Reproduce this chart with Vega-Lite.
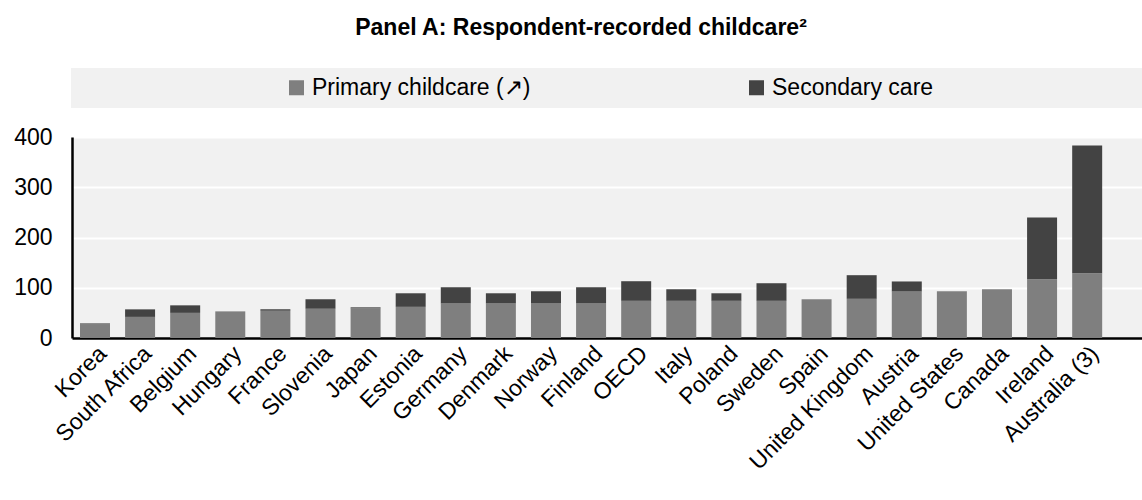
{
  "$schema": "https://vega.github.io/schema/vega-lite/v6.json",
  "autosize": {"type": "none"},
  "width": 1070,
  "height": 201,
  "padding": {"left": 72, "top": 137, "right": 0, "bottom": 162},
  "background": "white",
  "title": {
    "text": "Panel A: Respondent-recorded childcare²",
    "font": "Liberation Sans",
    "fontSize": 23,
    "fontWeight": "bold",
    "color": "black",
    "anchor": "middle",
    "frame": "group",
    "dx": -26,
    "offset": 28
  },
  "config": {
    "view": {"stroke": null, "fill": "#F1F1F1"},
    "font": "Liberation Sans"
  },
  "data": {
    "values": [
      {"country": "Korea", "care": "Primary childcare (↗)", "hours": 27},
      {"country": "Korea", "care": "Secondary care", "hours": 2},
      {"country": "South Africa", "care": "Primary childcare (↗)", "hours": 42},
      {"country": "South Africa", "care": "Secondary care", "hours": 15},
      {"country": "Belgium", "care": "Primary childcare (↗)", "hours": 50},
      {"country": "Belgium", "care": "Secondary care", "hours": 15},
      {"country": "Hungary", "care": "Primary childcare (↗)", "hours": 53},
      {"country": "Hungary", "care": "Secondary care", "hours": 0},
      {"country": "France", "care": "Primary childcare (↗)", "hours": 54},
      {"country": "France", "care": "Secondary care", "hours": 3},
      {"country": "Slovenia", "care": "Primary childcare (↗)", "hours": 58},
      {"country": "Slovenia", "care": "Secondary care", "hours": 19},
      {"country": "Japan", "care": "Primary childcare (↗)", "hours": 59},
      {"country": "Japan", "care": "Secondary care", "hours": 2},
      {"country": "Estonia", "care": "Primary childcare (↗)", "hours": 62},
      {"country": "Estonia", "care": "Secondary care", "hours": 27},
      {"country": "Germany", "care": "Primary childcare (↗)", "hours": 69},
      {"country": "Germany", "care": "Secondary care", "hours": 32},
      {"country": "Denmark", "care": "Primary childcare (↗)", "hours": 69},
      {"country": "Denmark", "care": "Secondary care", "hours": 20},
      {"country": "Norway", "care": "Primary childcare (↗)", "hours": 69},
      {"country": "Norway", "care": "Secondary care", "hours": 24},
      {"country": "Finland", "care": "Primary childcare (↗)", "hours": 69},
      {"country": "Finland", "care": "Secondary care", "hours": 32},
      {"country": "OECD", "care": "Primary childcare (↗)", "hours": 74},
      {"country": "OECD", "care": "Secondary care", "hours": 39},
      {"country": "Italy", "care": "Primary childcare (↗)", "hours": 74},
      {"country": "Italy", "care": "Secondary care", "hours": 23},
      {"country": "Poland", "care": "Primary childcare (↗)", "hours": 74},
      {"country": "Poland", "care": "Secondary care", "hours": 15},
      {"country": "Sweden", "care": "Primary childcare (↗)", "hours": 74},
      {"country": "Sweden", "care": "Secondary care", "hours": 35},
      {"country": "Spain", "care": "Primary childcare (↗)", "hours": 77},
      {"country": "Spain", "care": "Secondary care", "hours": 0},
      {"country": "United Kingdom", "care": "Primary childcare (↗)", "hours": 78},
      {"country": "United Kingdom", "care": "Secondary care", "hours": 47},
      {"country": "Austria", "care": "Primary childcare (↗)", "hours": 92.5},
      {"country": "Austria", "care": "Secondary care", "hours": 20},
      {"country": "United States", "care": "Primary childcare (↗)", "hours": 93},
      {"country": "United States", "care": "Secondary care", "hours": 0},
      {"country": "Canada", "care": "Primary childcare (↗)", "hours": 97},
      {"country": "Canada", "care": "Secondary care", "hours": 0},
      {"country": "Ireland", "care": "Primary childcare (↗)", "hours": 117},
      {"country": "Ireland", "care": "Secondary care", "hours": 123},
      {"country": "Australia (3)", "care": "Primary childcare (↗)", "hours": 129},
      {"country": "Australia (3)", "care": "Secondary care", "hours": 254}
    ]
  },
  "mark": {"type": "bar"},
  "encoding": {
    "x": {
      "field": "country",
      "type": "nominal",
      "sort": null,
      "scale": {"paddingInner": 0.335, "paddingOuter": 0.53, "align": 0.167},
      "axis": {
        "title": null,
        "labelAngle": -45,
        "labelFontSize": 23,
        "labelColor": "black",
        "labelPadding": 4,
        "ticks": false,
        "domainColor": "black",
        "domainWidth": 2.5,
        "grid": false
      }
    },
    "y": {
      "field": "hours",
      "type": "quantitative",
      "stack": "zero",
      "scale": {"domain": [0, 400], "nice": false},
      "axis": {
        "title": null,
        "values": [0, 100, 200, 300, 400],
        "labelFontSize": 23,
        "labelColor": "black",
        "labelPadding": 20,
        "ticks": false,
        "domainColor": "black",
        "domainWidth": 2.5,
        "gridColor": "white",
        "gridWidth": 2,
        "gridOpacity": 1
      }
    },
    "color": {
      "field": "care",
      "type": "nominal",
      "scale": {
        "domain": ["Primary childcare (↗)", "Secondary care", "\u00a0"],
        "range": ["#7F7F7F", "#434343", "#F1F1F1"]
      },
      "legend": {
        "title": null,
        "orient": "none",
        "legendX": -1,
        "legendY": -69,
        "direction": "horizontal",
        "fillColor": "#F1F1F1",
        "padding": 8,
        "symbolType": "square",
        "symbolSize": 225,
        "symbolStrokeWidth": 0,
        "symbolOpacity": 1,
        "symbolOffset": 206,
        "labelOffset": 4,
        "labelFontSize": 23,
        "labelColor": "black",
        "labelLimit": 2000,
        "columnPadding": 8
      }
    },
    "order": {"field": "care", "sort": "ascending"}
  }
}
